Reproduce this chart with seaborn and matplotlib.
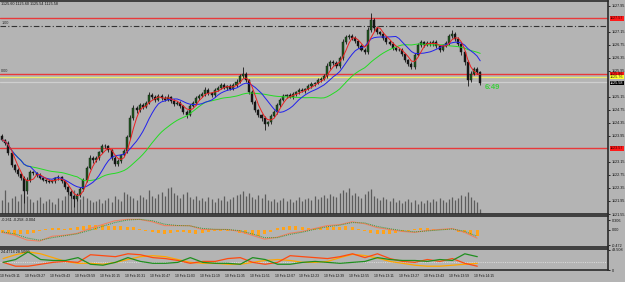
import numpy as np
import pandas as pd
import matplotlib
matplotlib.use("Agg")
import matplotlib.pyplot as plt
import matplotlib.transforms as mtrans
import seaborn as sns

# ---------------- data (2-minute bars, 10 Feb, times in minutes after 09:00) ----------------
first_open = 1123.95
closes = [
    1123.83, 1123.73, 1123.43, 1123.06, 1122.90, 1122.78, 1122.66, 1122.25, 1122.60, 1122.84,
    1122.81, 1122.75, 1122.66, 1122.60, 1122.57, 1122.54, 1122.57, 1122.66, 1122.69, 1122.57,
    1122.38, 1122.23, 1122.10, 1122.01, 1122.13, 1122.32, 1122.60, 1122.97, 1123.27, 1123.21,
    1123.27, 1123.46, 1123.64, 1123.64, 1123.52, 1123.27, 1123.09, 1123.18, 1123.37, 1123.49,
    1123.92, 1124.50, 1124.81, 1124.75, 1124.90, 1124.84, 1124.97, 1125.21, 1125.15, 1125.06,
    1125.18, 1125.12, 1125.06, 1125.15, 1125.03, 1124.94, 1124.97, 1124.87, 1124.69, 1124.60,
    1124.87, 1124.97, 1125.12, 1125.18, 1125.24, 1125.37, 1125.27, 1125.21, 1125.37, 1125.43,
    1125.52, 1125.43, 1125.49, 1125.40, 1125.52, 1125.61, 1125.80, 1125.86, 1125.67, 1125.30,
    1125.00, 1124.75, 1124.60, 1124.50, 1124.32, 1124.38, 1124.57, 1124.69, 1124.90, 1125.06,
    1125.18, 1125.21, 1125.15, 1125.24, 1125.30, 1125.37, 1125.33, 1125.40, 1125.49, 1125.55,
    1125.58, 1125.67, 1125.70, 1125.80, 1126.10, 1126.23, 1126.20, 1126.10, 1126.35, 1126.84,
    1127.00, 1127.03, 1126.97, 1126.87, 1126.72, 1126.60, 1126.53, 1127.21, 1127.52, 1127.27,
    1127.15, 1127.09, 1126.97, 1126.84, 1126.78, 1126.66, 1126.60, 1126.60, 1126.47, 1126.29,
    1126.17, 1126.07, 1126.44, 1126.75, 1126.84, 1126.75, 1126.81, 1126.78, 1126.84, 1126.72,
    1126.60, 1126.72, 1126.81, 1127.03, 1127.09, 1126.94, 1126.78, 1126.53, 1126.23, 1125.67,
    1125.86, 1126.01, 1125.92, 1125.58,
]
# wick lengths beyond the candle body, in cents
up_wick = [
    6, 4, 5, 3, 4, 6, 3, 5, 8, 5, 4, 3, 5, 4, 3, 6, 4, 3, 5, 4,
    3, 4, 5, 3, 6, 7, 5, 6, 8, 5, 6, 4, 7, 5, 4, 3, 5, 6, 4, 5,
    6, 8, 9, 5, 6, 7, 5, 8, 6, 5, 7, 5, 6, 8, 4, 5, 6, 4, 3, 5,
    6, 5, 7, 5, 6, 8, 5, 4, 6, 7, 5, 6, 4, 5, 7, 8, 6, 21, 5, 4,
    6, 5, 4, 3, 5, 4, 6, 5, 7, 6, 5, 4, 6, 5, 4, 6, 5, 4, 5, 6,
    4, 5, 6, 5, 8, 7, 5, 6, 7, 9, 6, 5, 4, 5, 4, 5, 6, 8, 21, 6,
    5, 4, 5, 4, 6, 5, 4, 5, 4, 3, 4, 5, 7, 6, 5, 4, 6, 5, 7, 5,
    4, 6, 5, 7, 12, 5, 4, 5, 4, 6, 8, 6, 7, 3,
]
dn_wick = [
    5, 6, 8, 6, 5, 7, 6, 35, 8, 6, 5, 6, 4, 5, 6, 4, 5, 6, 5, 6,
    7, 6, 5, 24, 6, 5, 7, 6, 5, 8, 5, 6, 4, 6, 5, 7, 6, 5, 6, 4,
    5, 6, 7, 8, 5, 6, 4, 5, 7, 6, 5, 6, 4, 5, 6, 7, 5, 6, 8, 10,
    5, 4, 6, 5, 4, 5, 6, 7, 5, 4, 5, 4, 6, 5, 4, 5, 4, 6, 5, 7,
    8, 7, 6, 8, 18, 6, 5, 4, 5, 6, 5, 6, 4, 5, 6, 5, 4, 5, 4, 5,
    6, 4, 5, 4, 6, 8, 6, 7, 5, 6, 5, 6, 7, 5, 6, 5, 7, 6, 5, 8,
    6, 5, 6, 5, 4, 6, 5, 4, 6, 7, 8, 6, 5, 4, 6, 5, 4, 5, 6, 5,
    6, 5, 4, 5, 6, 7, 6, 8, 9, 18, 6, 5, 6, 5,
]
volumes = [
    28, 48, 24, 32, 36, 26, 40, 48, 36, 30, 24, 28, 34, 22, 26, 30, 24, 20, 32, 28,
    36, 42, 34, 48, 40, 30, 36, 32, 28, 24, 26, 30, 22, 28, 32, 24, 36, 30, 26, 44,
    40, 36, 32, 28, 38, 34, 30, 48, 36, 32, 40, 44, 36, 52, 54, 42, 38, 32, 40, 44,
    34, 30, 36, 28, 32, 26, 34, 30, 24, 32, 28, 36, 26, 30, 34, 38, 40, 46, 36, 42,
    34, 30, 38, 32, 40, 28, 26, 30, 24, 28, 32, 26, 30, 24, 28, 34, 26, 30, 32, 28,
    36, 30, 34, 38, 32, 40, 36, 34, 42, 48, 44, 52, 38, 42, 36, 32, 40, 46, 50, 36,
    32, 28, 34, 30, 26, 32, 24, 28, 22, 26, 30, 24, 28, 20, 26, 22, 28, 24, 30, 26,
    32, 28, 24, 30, 34, 28, 32, 38, 36, 44, 34, 28, 24, 10,
]
# MACD (main / signal) sampled every 4 bars, OsMA histogram every 2 bars
macd_main = [
    -0.075, -0.165, -0.315, -0.345, -0.195, -0.165, -0.105, 0.045, 0.165, 0.285,
    0.330, 0.330, 0.255, 0.135, 0.135, 0.135, 0.015, 0.015, 0.015, -0.045,
    -0.165, -0.285, -0.225, -0.105, -0.045, 0.045, 0.135, 0.165, 0.255, 0.195,
    0.075, 0.015, -0.045, -0.075, -0.015, 0.015, 0.045, -0.075, -0.255,
]
macd_signal = [
    -0.06, -0.12, -0.25, -0.32, -0.24, -0.18, -0.12, -0.01, 0.11, 0.23,
    0.31, 0.33, 0.29, 0.18, 0.14, 0.13, 0.05, 0.02, 0.015, -0.02,
    -0.12, -0.24, -0.24, -0.14, -0.07, 0.02, 0.10, 0.15, 0.23, 0.22,
    0.11, 0.04, -0.02, -0.06, -0.03, 0.00, 0.03, -0.04, -0.20,
]
osma = [
    -0.08, -0.12, -0.15, -0.14, -0.11, -0.08, -0.04, 0.04, 0.06, 0.06,
    0.04, 0.06, 0.08, 0.11, 0.14, 0.16, 0.15, 0.13, 0.12, 0.11,
    0.10, 0.08, 0.04, -0.02, -0.06, -0.09, -0.11, -0.08, -0.05, -0.06,
    -0.09, -0.11, -0.10, -0.06, -0.04, -0.02, -0.02, -0.04, -0.08, -0.12,
    -0.16, -0.18, -0.14, -0.07, 0.05, 0.10, 0.12, 0.11, 0.09, 0.07,
    0.07, 0.09, 0.09, 0.08, 0.09, 0.11, 0.08, 0.04, -0.04, -0.09,
    -0.12, -0.13, -0.11, -0.09, -0.05, -0.02, 0.02, 0.05, 0.05, 0.04,
    0.04, 0.03, 0.00, -0.05, -0.10, -0.15, -0.18,
]
# ADX panel lines sampled every 4 bars
adx_gold = [
    27.7, 37.0, 43.9, 39.3, 30.0, 20.8, 16.2, 16.2, 13.9, 18.5,
    25.4, 32.3, 34.7, 32.3, 25.4, 18.5, 16.2, 16.2, 13.9, 13.9,
    18.5, 23.1, 25.4, 23.1, 18.5, 18.5, 20.8, 30.0, 38.0, 35.0,
    29.0, 20.8, 16.2, 11.6, 9.2, 9.2, 11.6, 13.9, 16.2,
]
adx_green = [
    18.5, 25.4, 43.9, 25.4, 23.1, 23.1, 30.0, 13.9, 11.6, 18.5,
    30.0, 20.8, 16.2, 16.2, 18.5, 30.0, 18.5, 16.2, 16.2, 13.9,
    30.0, 25.4, 13.9, 13.9, 18.5, 20.8, 18.5, 16.2, 18.5, 20.8,
    30.0, 25.4, 23.1, 23.1, 20.8, 25.4, 23.1, 39.3, 32.3,
]
adx_red = [
    18.5, 9.2, 9.2, 13.9, 18.5, 20.8, 18.5, 37.0, 34.7, 32.3,
    39.3, 37.0, 30.0, 27.7, 23.1, 16.2, 20.8, 20.8, 27.7, 30.0,
    18.5, 13.9, 18.5, 34.7, 32.3, 30.0, 27.7, 32.3, 39.3, 30.0,
    39.3, 27.7, 20.8, 18.5, 25.4, 20.8, 27.7, 16.2, 9.2,
]
tick_prices = [1127.95, 1127.15, 1126.75, 1126.35, 1125.95, 1125.15,
               1124.75, 1124.35, 1123.95, 1123.15, 1122.75, 1122.35, 1121.95, 1121.55]
time_ticks = ["09:11", "09:27", "09:43", "09:59", "10:15", "10:31", "10:47", "11:03",
              "11:19", "11:35", "11:51", "12:07", "12:23", "12:39", "12:55", "13:11",
              "13:27", "13:43", "13:59", "14:15"]
red_levels = [1127.57, 1125.86, 1123.57]
fibo_level = 1127.33
ask_level = 1125.76
bid_level = 1125.62
last_price = 1125.58

# ---------------- derived ----------------
closes = np.array(closes)
n = len(closes)
t = 13 + 2 * np.arange(n)
opens = np.r_[first_open, closes[:-1]]
highs = np.maximum(opens, closes) + np.array(up_wick) / 100
lows = np.minimum(opens, closes) - np.array(dn_wick) / 100
df = pd.DataFrame({"t": t, "close": closes})
df["ma_fast"] = df["close"].rolling(4, min_periods=1).mean()
df["ma_mid"] = df["close"].rolling(10, min_periods=1).mean()
df["ma_slow"] = df["close"].rolling(25, min_periods=1).mean()
t4 = t[::4]
t2 = t[::2]

def hm(s):
    h, m = s.split(":")
    return (int(h) - 9) * 60 + int(m)
tick_pos = [hm(s) for s in time_ticks]

# ---------------- style ----------------
sns.set_style("white")
plt.rcParams["font.family"] = ["Liberation Sans", "DejaVu Sans"]
BG = "#b4b4b4"
FRAME = "#2a2a2a"
FS = 2.7
XL = (11.6, 400.8)

fig = plt.figure(figsize=(6.25, 2.82), dpi=100, facecolor=BG)
ax = fig.add_axes([0, 68 / 282, 608 / 625, 213 / 282], facecolor=BG)
axm = fig.add_axes([0, 35 / 282, 608 / 625, 31 / 282], facecolor=BG)
axa = fig.add_axes([0, 12 / 282, 608 / 625, 21 / 282], facecolor=BG)

for a in (ax, axm, axa):
    a.set_xlim(*XL)
    for s in ("top", "right", "bottom"):
        a.spines[s].set_color(FRAME)
        a.spines[s].set_linewidth(1.2)
    a.spines["left"].set_visible(False)
    a.yaxis.tick_right()
    a.tick_params(axis="y", length=1.5, width=0.6, pad=1.0, labelsize=FS, colors="#111111")

# ---------------- main price panel ----------------
ax.set_ylim(1121.55, 1128.10)
# volume histogram (bottom of main window)
ax.vlines(t, 0, np.array(volumes) / 420.0, transform=ax.get_xaxis_transform(),
          color="#5c5c5c", lw=0.9, zorder=1)

# horizontal levels
for lv in red_levels:
    ax.axhline(lv, color="#e8393a", lw=1.0, zorder=2)
ax.axhline(fibo_level, color="#333333", lw=0.8, ls=(0, (5, 2, 1, 2)), zorder=2)
ax.axhline(ask_level, color="#eded6a", lw=0.9, zorder=2)
ax.axhline(bid_level, color="#cfcfcf", lw=0.9, zorder=2)

# candles
up = closes >= opens
ax.vlines(t, lows, highs, color="#151515", lw=0.6, zorder=3)
ax.bar(t[up], (closes - opens)[up], bottom=opens[up], width=1.3,
       color="#1f5a1f", edgecolor="#151515", linewidth=0.3, zorder=4)
ax.bar(t[~up], (opens - closes)[~up], bottom=closes[~up], width=1.3,
       color="#151515", edgecolor="#151515", linewidth=0.3, zorder=4)

# moving averages
sns.lineplot(data=df, x="t", y="ma_slow", ax=ax, color="#22dd22", lw=0.7, zorder=5)
sns.lineplot(data=df, x="t", y="ma_mid", ax=ax, color="#2020ee", lw=0.7, zorder=5)
sns.lineplot(data=df, x="t", y="ma_fast", ax=ax, color="#ee2020", lw=0.7, zorder=5)

ax.set_xticks([])
ax.set_yticks(tick_prices)
ax.set_yticklabels([f"{p:.2f}" for p in tick_prices])

# right-side price boxes
bt = mtrans.blended_transform_factory(ax.transAxes, ax.transData)
def box(price, fc, tc):
    ax.text(1.0035, price, f"{price:.2f}", transform=bt, fontsize=FS, color=tc,
            va="center", ha="left", clip_on=False, zorder=10,
            bbox=dict(boxstyle="square,pad=0.08", fc=fc, ec="none"))
for lv in red_levels:
    box(lv, "#ff1a1a", "#330000")
box(ask_level, "#ffff33", "#333300")
box(last_price, "#000000", "#ffffff")

ax.text(0.002, 0.994, "1125.60 1125.60 1125.54 1125.58", transform=ax.transAxes,
        fontsize=FS, va="top", ha="left", color="#111111")
ax.text(0.002, fibo_level + 0.03, "1.00", transform=bt, fontsize=FS, va="bottom", ha="left")
ax.text(0.002, red_levels[1] + 0.03, "0.00", transform=bt, fontsize=FS, va="bottom", ha="left")
ax.text(t[-1] + 3, last_price - 0.13, "6:49", fontsize=5.5, color="#3ccf3c",
        fontweight="bold", va="center", ha="left")

# ---------------- MACD panel ----------------
axm.set_ylim(-0.53, 0.435)
axm.bar(t2, osma, width=2.0, color="#ffa31a", edgecolor="none", zorder=2)
sns.lineplot(x=t4, y=macd_main, ax=axm, color="#f08060", lw=0.8, zorder=3)
sns.lineplot(x=t4, y=macd_signal, ax=axm, color="#3a9a3a", lw=0.7, ls=(0, (1, 1)), zorder=4)
axm.set_xticks([])
axm.set_yticks([0.306, 0.0, -0.472])
axm.set_yticklabels(["0.306", "0.00", "-0.472"])
axm.text(0.002, 0.93, "-0.261 -0.258 -0.004", transform=axm.transAxes,
         fontsize=FS, va="top", ha="left", color="#111111")

# ---------------- ADX panel ----------------
axa.set_ylim(0, 50.9)
axa.axhline(20, color="#d8d8d8", lw=0.8, ls=(0, (1, 1)), zorder=1)
sns.lineplot(x=t4, y=adx_gold, ax=axa, color="#ffa500", lw=0.9, zorder=2)
sns.lineplot(x=t4, y=adx_red, ax=axa, color="#ff4a10", lw=0.9, zorder=3)
sns.lineplot(x=t4, y=adx_green, ax=axa, color="#1f8f1f", lw=0.9, zorder=4)
axa.set_yticks([48.508, 0])
axa.set_yticklabels(["48.508", "0"])
axa.text(0.002, 0.97, "24.4714 28.5060", transform=axa.transAxes,
         fontsize=FS, va="top", ha="left", color="#111111")
axa.set_xticks(tick_pos)
axa.set_xticklabels([f"10 Feb {s}" for s in time_ticks])
axa.tick_params(axis="x", length=1.5, width=0.6, pad=1.5, labelsize=2.4, colors="#111111")
for lab in axa.get_xticklabels():
    lab.set_ha("left")

for a in (ax, axm, axa):
    a.set_xlabel("")
    a.set_ylabel("")

fig.savefig("out.png", dpi=100, facecolor=BG)
